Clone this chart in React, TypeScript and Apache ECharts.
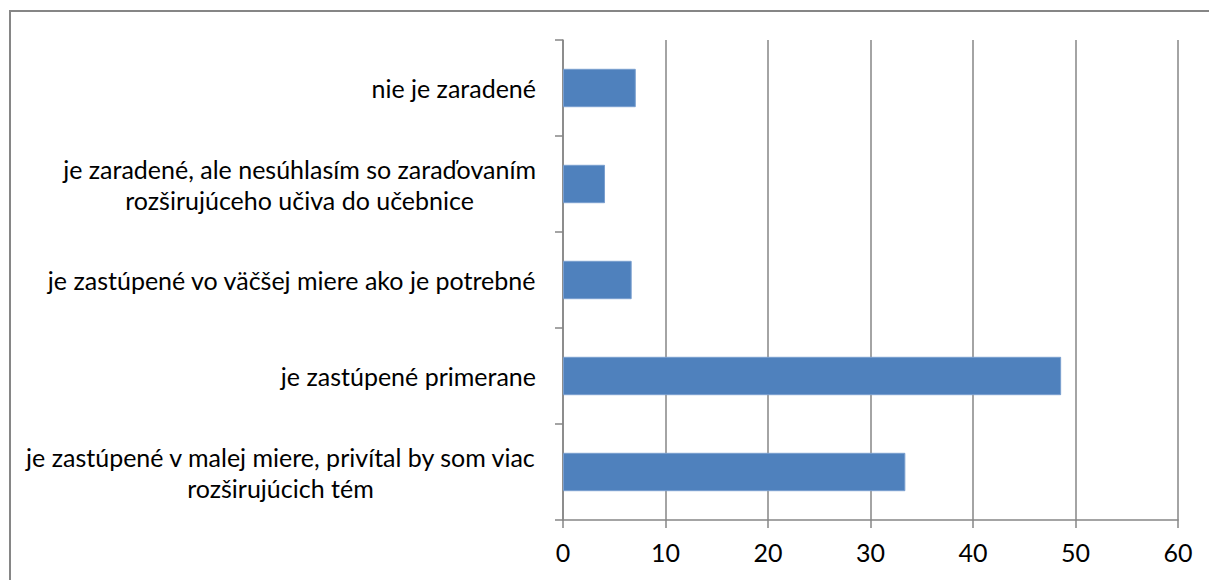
import React, { useEffect, useRef } from "react";
import * as echarts from "echarts";

const categories: string[] = [
  "je zastúpené v malej miere, privítal by som viac\nrozširujúcich tém",
  "je zastúpené primerane",
  "je zastúpené vo väčšej miere ako je potrebné",
  "je zaradené, ale nesúhlasím so zaraďovaním\nrozširujúceho učiva do učebnice",
  "nie je zaradené",
];
const values: number[] = [33.4, 48.6, 6.7, 4.1, 7.1];
const xTicks = { min: 0, max: 60, interval: 10 };

const FONT_FAMILY = "Lato";
const FONT_SIZE = 25;

function measure(text: string): number {
  const c = document.createElement("canvas");
  const ctx = c.getContext("2d");
  if (!ctx) return text.length * 10;
  ctx.font = `${FONT_SIZE}px ${FONT_FAMILY}`;
  return ctx.measureText(text).width;
}

export default function App() {
  const ref = useRef<HTMLDivElement>(null);
  useEffect(() => {
    if (!ref.current) return;
    const chart = echarts.init(ref.current, null, { renderer: "svg" });
    const rich: Record<string, any> = {};
    categories.forEach((c, i) => {
      const w = Math.max(...c.split("\n").map(measure)) + 2;
      rich["c" + i] = {
        width: w,
        align: "center",
        fontSize: FONT_SIZE,
        fontFamily: FONT_FAMILY,
        color: "#000",
        lineHeight: 31,
      };
    });
    chart.setOption({
      animation: false,
      backgroundColor: "#fff",
      graphic: [
        {
          type: "rect",
          shape: { x: 10, y: 11, width: 1400, height: 800 },
          style: { fill: "none", stroke: "#868686", lineWidth: 2 },
          silent: true,
        },
      ],
      grid: { left: 563, right: 31, top: 40, bottom: 60, containLabel: false },
      xAxis: {
        type: "value",
        min: xTicks.min,
        max: xTicks.max,
        interval: xTicks.interval,
        axisLine: { show: true, lineStyle: { color: "#868686", width: 1.5 } },
        axisTick: { show: true, length: 8, lineStyle: { color: "#868686", width: 1.5 } },
        splitLine: { show: true, lineStyle: { color: "#868686", width: 1.5 } },
        axisLabel: {
          margin: 19,
          fontSize: FONT_SIZE,
          fontFamily: FONT_FAMILY,
          color: "#000",
        },
      },
      yAxis: {
        type: "category",
        data: categories,
        axisLine: { show: true, lineStyle: { color: "#868686", width: 1.5 } },
        axisTick: { show: true, length: 8, lineStyle: { color: "#868686", width: 1.5 } },
        splitLine: { show: false },
        axisLabel: {
          margin: 26,
          align: "right",
          formatter: (v: string) => {
            const i = categories.indexOf(v);
            return v
              .split("\n")
              .map((l) => `{c${i}|${l}}`)
              .join("\n");
          },
          rich,
        },
      },
      series: [
        {
          type: "bar",
          data: values,
          barCategoryGap: "60%",
          itemStyle: { color: "#4F81BD", borderColor: "#7A9FCF", borderWidth: 1 },
        },
      ],
    });
    return () => chart.dispose();
  }, []);
  return (
    <div
      ref={ref}
      style={{ position: "absolute", left: 0, top: 0, width: 1209, height: 580 }}
    />
  );
}
